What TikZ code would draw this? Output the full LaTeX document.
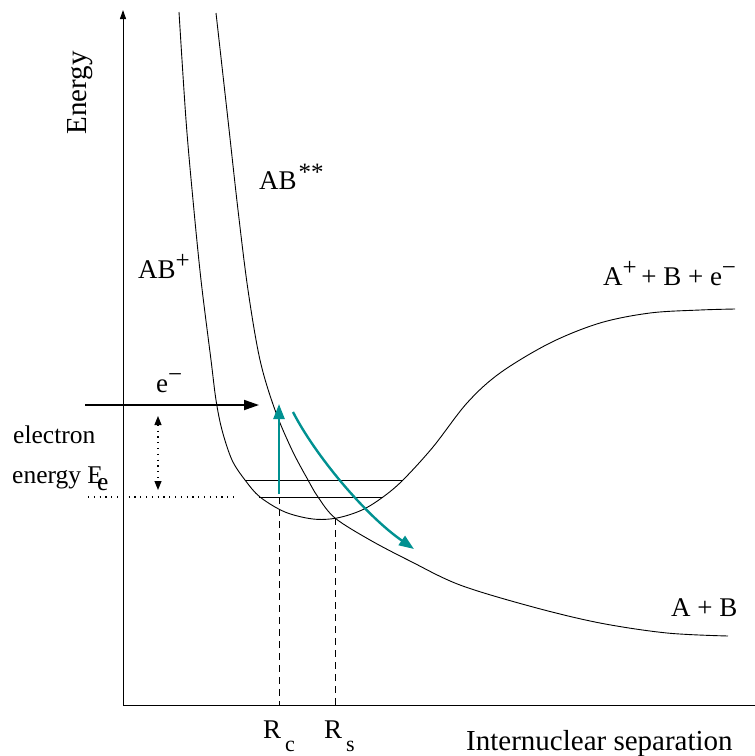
\documentclass[tikz,border=0pt]{standalone}
\usepackage{fontspec}
\setmainfont{Liberation Serif}
\usetikzlibrary{arrows.meta}
\definecolor{tealc}{RGB}{0,145,145}
\newcommand{\upidx}[2][0.36em]{\raisebox{#1}{\fontsize{25}{25}\selectfont #2}}
\newcommand{\dnidx}[2][-13pt]{\raisebox{#1}{\fontsize{22}{22}\selectfont #2}}
\begin{document}
\begin{tikzpicture}[x=1pt,y=-1pt,
  curve/.style={line width=0.9pt},
  lbl/.style={inner sep=0pt,anchor=base west,font=\fontsize{27}{30}\selectfont},
  tealarrow/.style={draw=tealc,line width=2.4pt,-{Triangle[length=15pt,width=11pt]}},
  level/.style={line width=0.9pt},
  guide/.style={line width=0.9pt,dash pattern=on 7pt off 5pt},
  dotline/.style={line width=1.1pt,dash pattern=on 1.2pt off 4.6pt}]
\useasboundingbox (0,0) rectangle (755,756);
% axes
\coordinate (O) at (123,705);
\coordinate (Ytop) at (123,10);
\coordinate (Xend) at (755,705);
\draw[line width=1pt,-{Triangle[length=9pt,width=6pt]}] (O) -- (Ytop);
\draw[line width=1pt] (O) -- (Xend);
% AB+ potential well
\draw[curve] plot[smooth,tension=0.55] coordinates {(179,12) (186,120) (193,200) (201,280) (211,360) (216,400) (222,430) (232,460) (245,480) (260,497) (285,512) (313,519) (337,518) (362,510) (383,497) (403,480) (433,447) (467,403) (500,373) (550,343) (600,323) (650,313) (700,310) (735,309)};
% AB** repulsive curve
\draw[curve] plot[smooth,tension=0.55] coordinates {(216,13) (228,120) (238,210) (248,290) (260,360) (275,410) (292,450) (308,480) (318,497) (335,518) (370,540) (410,561) (460,585) (533,607) (600,623) (667,633) (728,636)};
% vibrational levels
\coordinate (L1a) at (245,480); \coordinate (L1b) at (403,480);
\coordinate (L2a) at (259,497); \coordinate (L2b) at (383,497);
\draw[level] (L1a) -- (L1b);
\draw[level] (L2a) -- (L2b);
% dotted reference line
\coordinate (D1) at (88,497); \coordinate (D2) at (237,497);
\draw[dotline] (D1) -- (D2);
% electron arrow
\coordinate (E1) at (85,405); \coordinate (E2) at (259,405);
\draw[line width=1.8pt,-{Triangle[length=15pt,width=10pt]}] (E1) -- (E2);
% electron energy double arrow
\coordinate (V1) at (158,416); \coordinate (V2) at (158,490);
\draw[dotline,{Triangle[length=9pt,width=7pt]}-{Triangle[length=9pt,width=7pt]}] (V1) -- (V2);
% dashed guides
\coordinate (Rc) at (279,497); \coordinate (Rca) at (279,705);
\coordinate (Rs) at (335,518); \coordinate (Rsa) at (335,705);
\draw[guide] (Rc) -- (Rca);
\draw[guide] (Rs) -- (Rsa);
% teal arrows
\coordinate (T1) at (279,494); \coordinate (T2) at (279,404);
\draw[tealarrow] (T1) -- (T2);
\coordinate (T3) at (293,412); \coordinate (T4) at (414,549);
\draw[tealarrow] (T3) .. controls (315,455) and (365,515) .. (T4);
% labels
\node[lbl,rotate=90,anchor=base,font=\fontsize{29}{30}\selectfont] (energy) at (86,93) {Energy};
\node[lbl] (abss) at (259,189) {AB\hspace{2pt}\upidx[0.3em]{**}};
\node[lbl] (abp) at (138,278) {AB\upidx{+}};
\node[lbl] (ion) at (603,285) {A\upidx{+}\,+ B + e\upidx{−}};
\node[lbl] (ab) at (671,616) {A + B};
\node[lbl] (em) at (156,392) {e\upidx{−}};
\node[lbl,font=\fontsize{25.5}{28}\selectfont] (el) at (13,443) {electron};
\node[lbl,font=\fontsize{25.5}{28}\selectfont] (en) at (12,483) {energy E\hspace{-6pt}\raisebox{-7pt}{e}};
\node[lbl] (rc) at (263,738) {R\hspace{4pt}\dnidx{c}};
\node[lbl] (rs) at (324,738) {R\hspace{4pt}\dnidx{s}};
\node[lbl,font=\fontsize{29}{30}\selectfont] (xl) at (466,750) {Internuclear separation};
\end{tikzpicture}
\end{document}
